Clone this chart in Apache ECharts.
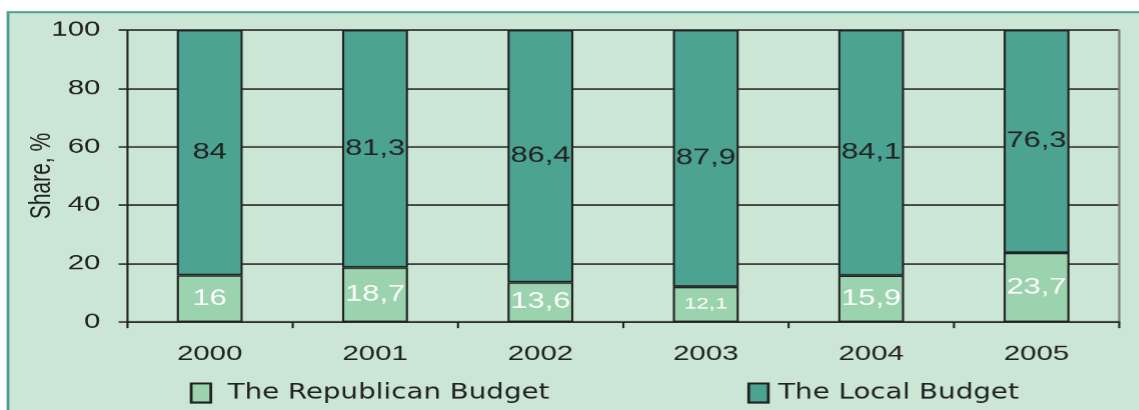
<!DOCTYPE html>
<html>
<head>
<meta charset="utf-8">
<script src="https://cdn.jsdelivr.net/npm/echarts@6/dist/echarts.min.js"></script>
<style>
  html, body { margin: 0; padding: 0; background: #ffffff; overflow: hidden; }
  /* the chart is laid out on a narrower canvas and widened horizontally */
  #chart { width: 813.6px; height: 410px; transform: scaleX(1.4); transform-origin: 0 0; }
</style>
</head>
<body>
<div id="chart"></div>
<script>
// Budget structure by year, shares in percent
const years = ['2000', '2001', '2002', '2003', '2004', '2005'];
const republicanBudget = [16, 18.7, 13.6, 12.1, 15.9, 23.7];
const localBudget = [84, 81.3, 86.4, 87.9, 84.1, 76.3];
const yTicks = [0, 20, 40, 60, 80, 100];

const fmt = v => String(v).replace('.', ',');
const ink = '#222222';

const chart = echarts.init(document.getElementById('chart'), null, {
  renderer: 'canvas', devicePixelRatio: 1.4
});

const repData = republicanBudget.map(v => ({
  value: v,
  label: v < 13 ? { fontSize: 16 } : {}
}));

const legendText = { fontFamily: 'DejaVu Sans Condensed', fontSize: 22, color: ink };

chart.setOption({
  animation: false,
  backgroundColor: '#ffffff',
  graphic: [{
    type: 'rect',
    z: -10,
    shape: { x: 5.7, y: 12, width: 820, height: 410 },
    style: { fill: '#cce6d6', stroke: '#4aa08c', lineWidth: 2 }
  }],
  grid: { left: 90.7, right: 15, top: 30, bottom: 88, containLabel: false },
  legend: [{
    left: 130.5, top: 377,
    itemWidth: 14, itemHeight: 19, itemGap: 8,
    icon: 'rect',
    data: [{ name: 'The Republican Budget' }],
    textStyle: Object.assign({ padding: [0, 0, 0, 7] }, legendText)
  }, {
    left: 528.5, top: 377,
    itemWidth: 14, itemHeight: 19, itemGap: 8,
    icon: 'rect',
    data: [{ name: 'The Local Budget' }],
    textStyle: Object.assign({ padding: [0, 0, 0, 2] }, legendText)
  }],
  xAxis: {
    type: 'category',
    data: years,
    boundaryGap: true,
    axisLine: { lineStyle: { color: ink, width: 1.5 } },
    axisTick: { show: true, alignWithLabel: false, length: 6, lineStyle: { color: ink, width: 1.5 } },
    axisLabel: { margin: 22, fontFamily: 'Liberation Sans', fontSize: 21, color: ink },
    splitLine: { show: false }
  },
  yAxis: [{
    type: 'value',
    min: 0, max: 100, interval: 20,
    name: 'Share, %',
    nameLocation: 'middle',
    nameGap: 50,
    nameRotate: 90,
    nameMoveOverlap: false,
    nameTextStyle: { fontFamily: 'Liberation Sans', fontSize: 21, color: ink },
    axisLine: { show: true, lineStyle: { color: ink, width: 1.5 } },
    axisTick: { show: true, length: 6, lineStyle: { color: ink, width: 1.5 } },
    axisLabel: {
      margin: 19, fontFamily: 'Liberation Sans', fontSize: 21, color: ink,
      formatter: v => yTicks.includes(v) ? String(v) : ''
    },
    splitLine: { show: true, lineStyle: { color: ink, width: 1.5 } }
  }, {
    type: 'value',
    position: 'right',
    min: 0, max: 100, interval: 20,
    axisLine: { show: true, lineStyle: { color: '#777777', width: 1.5 } },
    axisTick: { show: false },
    axisLabel: { show: false },
    splitLine: { show: false }
  }],
  series: [{
    name: 'The Republican Budget',
    type: 'bar',
    stack: 'total',
    barWidth: 47,
    data: repData,
    itemStyle: { color: '#9ad3ae', borderColor: ink, borderWidth: 1.5 },
    label: {
      show: true, position: 'inside',
      fontFamily: 'Liberation Sans', fontSize: 22, color: '#ffffff',
      formatter: p => fmt(p.value)
    }
  }, {
    name: 'The Local Budget',
    type: 'bar',
    stack: 'total',
    barWidth: 47,
    data: localBudget,
    itemStyle: { color: '#4da391', borderColor: ink, borderWidth: 1.5 },
    label: {
      show: true, position: 'inside',
      fontFamily: 'Liberation Sans', fontSize: 22, color: ink,
      formatter: p => fmt(p.value)
    }
  }]
});
</script>
</body>
</html>
